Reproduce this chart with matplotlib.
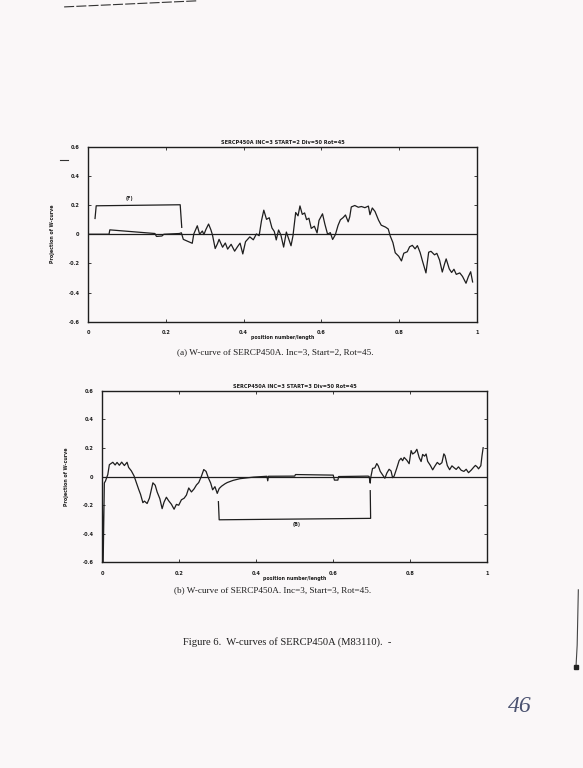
"""W-curves of SERCP450A: two projection plots on one scanned-style page."""
import matplotlib
matplotlib.use("Agg")
import matplotlib.pyplot as plt
from matplotlib.lines import Line2D

PAPER = "#faf7f8"
INK = "#1e1e1e"

# ---- data (axis units) ----
XTICKS = [0, 0.2, 0.4, 0.6, 0.8, 1]
XTICK_LABELS = ["0", "0.2", "0.4", "0.6", "0.8", "1"]
YTICKS = [-0.6, -0.4, -0.2, 0, 0.2, 0.4, 0.6]
YTICK_LABELS = ["-0.6", "-0.4", "-0.2", "0", "0.2", "0.4", "0.6"]

# (a) Inc=3, Start=2
xa = [0.0, 0.054, 0.056, 0.172, 0.176, 0.19, 0.195, 0.235, 0.24, 0.245,
      0.250, 0.268, 0.272, 0.281, 0.287, 0.294, 0.298, 0.303, 0.310, 0.316,
      0.320, 0.327, 0.333, 0.337, 0.346, 0.353, 0.359, 0.368, 0.377, 0.385,
      0.391, 0.398, 0.405, 0.416, 0.425, 0.433, 0.440, 0.446, 0.452, 0.459,
      0.466, 0.473, 0.479, 0.484, 0.490, 0.496, 0.503, 0.510, 0.516, 0.522,
      0.527, 0.534, 0.540, 0.545, 0.551, 0.557, 0.562, 0.568, 0.574, 0.582,
      0.589, 0.594, 0.603, 0.609, 0.616, 0.623, 0.629, 0.636, 0.643, 0.649,
      0.656, 0.662, 0.669, 0.673, 0.677, 0.686, 0.695, 0.703, 0.712, 0.721,
      0.725, 0.731, 0.738, 0.747, 0.754, 0.765, 0.772, 0.777, 0.784, 0.790,
      0.799, 0.806, 0.812, 0.821, 0.827, 0.834, 0.841, 0.847, 0.854, 0.860,
      0.869, 0.876, 0.882, 0.891, 0.897, 0.904, 0.911, 0.917, 0.921, 0.929,
      0.935, 0.941, 0.947, 0.956, 0.963, 0.972, 0.978, 0.984, 0.989]
ya = [0.0, 0.0, 0.030, 0.005, -0.015, -0.012, 0.0, 0.005, 0.010, -0.035,
      -0.041, -0.062, 0.002, 0.058, 0.000, 0.022, -0.002, 0.032, 0.070, 0.030,
      -0.005, -0.098, -0.064, -0.035, -0.089, -0.060, -0.102, -0.069, -0.116, -0.083,
      -0.061, -0.135, -0.051, -0.018, -0.038, 0.002, -0.010, 0.092, 0.165, 0.102,
      0.113, 0.043, 0.019, -0.039, 0.029, -0.006, -0.088, 0.015, -0.032, -0.079,
      -0.011, 0.149, 0.126, 0.194, 0.136, 0.146, 0.100, 0.110, 0.040, 0.055,
      0.009, 0.095, 0.140, 0.070, 0.000, 0.011, -0.036, -0.003, 0.061, 0.099,
      0.114, 0.132, 0.085, 0.119, 0.187, 0.197, 0.185, 0.190, 0.182, 0.193,
      0.134, 0.180, 0.156, 0.097, 0.062, 0.049, 0.036, -0.011, -0.057, -0.127,
      -0.151, -0.183, -0.130, -0.120, -0.086, -0.076, -0.100, -0.078, -0.125, -0.183,
      -0.265, -0.123, -0.117, -0.141, -0.131, -0.177, -0.259, -0.202, -0.169, -0.238,
      -0.262, -0.240, -0.275, -0.265, -0.289, -0.336, -0.291, -0.257, -0.327]
bracket_a_x = [0.018, 0.021, 0.237, 0.241]
bracket_a_y = [0.108, 0.195, 0.202, 0.047]

# (b) Inc=3, Start=3
xb = [0.0, 0.003, 0.006, 0.009, 0.015, 0.019, 0.028, 0.034, 0.039, 0.045,
      0.051, 0.058, 0.065, 0.069, 0.076, 0.083, 0.089, 0.095, 0.100, 0.106,
      0.110, 0.117, 0.123, 0.132, 0.138, 0.143, 0.150, 0.156, 0.161, 0.167,
      0.173, 0.180, 0.187, 0.193, 0.199, 0.206, 0.213, 0.219, 0.225, 0.232,
      0.239, 0.245, 0.251, 0.258, 0.264, 0.270, 0.276, 0.282, 0.287, 0.293,
      0.299, 0.304, 0.310, 0.319, 0.325, 0.340, 0.358, 0.393, 0.428, 0.430,
      0.432, 0.500, 0.502, 0.600, 0.603, 0.612, 0.614, 0.690,
      0.693, 0.696, 0.697, 0.702, 0.708, 0.713, 0.717, 0.722, 0.728, 0.734,
      0.739, 0.745, 0.750, 0.754, 0.758, 0.765, 0.771, 0.776, 0.780, 0.784,
      0.791, 0.797, 0.802, 0.806, 0.812, 0.817, 0.823, 0.828, 0.832, 0.837,
      0.841, 0.845, 0.852, 0.858, 0.863, 0.870, 0.876, 0.882, 0.887, 0.890,
      0.896, 0.902, 0.908, 0.913, 0.919, 0.925, 0.932, 0.939, 0.945, 0.951,
      0.958, 0.965, 0.969, 0.974, 0.977, 0.983, 0.986, 0.989]
yb = [0.0, -0.600, -0.045, -0.031, 0.014, 0.083, 0.100, 0.081, 0.099, 0.079,
      0.101, 0.077, 0.100, 0.064, 0.040, 0.005, -0.042, -0.089, -0.125, -0.183,
      -0.172, -0.189, -0.151, -0.044, -0.061, -0.108, -0.155, -0.225, -0.179, -0.145,
      -0.170, -0.194, -0.229, -0.195, -0.201, -0.163, -0.152, -0.130, -0.080, -0.108,
      -0.086, -0.059, -0.042, 0.003, 0.049, 0.036, -0.010, -0.046, -0.093, -0.071,
      -0.118, -0.084, -0.068, -0.051, -0.042, -0.027, -0.015, -0.004, 0.002, -0.030,
      0.002, 0.003, 0.014, 0.010, -0.025, -0.025, 0.000, 0.003,
      0.001, -0.046, -0.011, 0.057, 0.061, 0.091, 0.074, 0.036, 0.012, -0.012,
      0.024, 0.051, 0.039, -0.008, 0.003, 0.060, 0.112, 0.128, 0.111, 0.134,
      0.114, 0.090, 0.182, 0.158, 0.169, 0.191, 0.133, 0.105, 0.155, 0.143,
      0.158, 0.107, 0.078, 0.047, 0.070, 0.099, 0.084, 0.097, 0.159, 0.147,
      0.077, 0.048, 0.075, 0.063, 0.050, 0.068, 0.044, 0.036, 0.051, 0.027,
      0.045, 0.067, 0.078, 0.066, 0.054, 0.076, 0.145, 0.202]
bracket_b_x = [0.302, 0.304, 0.697, 0.696]
bracket_b_y = [-0.176, -0.303, -0.293, -0.099]

PANELS = [
    {"rect": [0.151, 0.581, 0.667, 0.228],
     "title": "SERCP450A INC=3 START=2 Div=50 Rot=45",
     "x": xa, "y": ya, "bx": bracket_a_x, "by": bracket_a_y,
     "tag": "(F)", "tag_xy": (0.106, 0.225), "tag_va": "bottom",
     "caption": "(a) W-curve of SERCP450A. Inc=3, Start=2, Rot=45.",
     "cap_xy": (0.472, 0.541)},
    {"rect": [0.175, 0.268, 0.661, 0.223],
     "title": "SERCP450A INC=3 START=3 Div=50 Rot=45",
     "x": xb, "y": yb, "bx": bracket_b_x, "by": bracket_b_y,
     "tag": "(B)", "tag_xy": (0.506, -0.318), "tag_va": "top",
     "caption": "(b) W-curve of SERCP450A. Inc=3, Start=3, Rot=45.",
     "cap_xy": (0.468, 0.232)},
]

fig = plt.figure(figsize=(5.83, 7.68), dpi=100, facecolor=PAPER)

for p in PANELS:
    ax = fig.add_axes(p["rect"], facecolor=PAPER)
    ax.plot([0, 1], [0, 0], color=INK, linewidth=0.9)
    ax.plot(p["x"], p["y"], color=INK, linewidth=0.9)
    ax.plot(p["bx"], p["by"], color=INK, linewidth=0.9)
    ax.text(*p["tag_xy"], p["tag"], fontsize=3.5, fontweight="bold",
            ha="center", va=p["tag_va"], color=INK)
    ax.set_xlim(0, 1)
    ax.set_ylim(-0.6, 0.6)
    ax.set_xticks(XTICKS, XTICK_LABELS)
    ax.set_yticks(YTICKS, YTICK_LABELS)
    ax.tick_params(direction="in", length=2.5, width=0.6, labelsize=3.6,
                   top=True, right=True, pad=6, colors=INK)
    for lab in ax.get_xticklabels() + ax.get_yticklabels():
        lab.set_fontweight("bold")
    for s in ax.spines.values():
        s.set_linewidth(1.0)
        s.set_color(INK)
    ax.set_title(p["title"], fontsize=3.6, fontweight="bold", pad=2, color=INK)
    ax.set_xlabel("position number/length", fontsize=3.4, fontweight="bold",
                  labelpad=0, color=INK)
    ax.set_ylabel("Projection of W-curve", fontsize=3.4, fontweight="bold",
                  labelpad=10, color=INK)
    fig.text(*p["cap_xy"], p["caption"], family="Liberation Serif",
             fontsize=6.6, ha="center", va="center", color=INK)

fig.text(0.314, 0.164, "Figure 6.  W-curves of SERCP450A (M83110).  -",
         family="Liberation Serif", fontsize=7.6, ha="left", va="center", color=INK)

# handwritten page number and scan marks
fig.text(0.892, 0.080, "46", family="Liberation Serif", style="italic",
         fontsize=17, color="#4b5270", ha="center", va="center")
fig.add_artist(Line2D([0.11, 0.34], [0.991, 0.999], color="#333", linewidth=0.8,
                      linestyle=(0, (9, 2))))
fig.add_artist(Line2D([0.103, 0.117], [0.792, 0.792], color="#333", linewidth=0.8))
fig.add_artist(Line2D([0.992, 0.990, 0.988], [0.232, 0.160, 0.132],
                      color="#444", linewidth=0.8))
fig.add_artist(Line2D([0.988], [0.131], marker="s", markersize=3.5, color="#222"))

fig.savefig("out.png", dpi=100, facecolor=PAPER)
